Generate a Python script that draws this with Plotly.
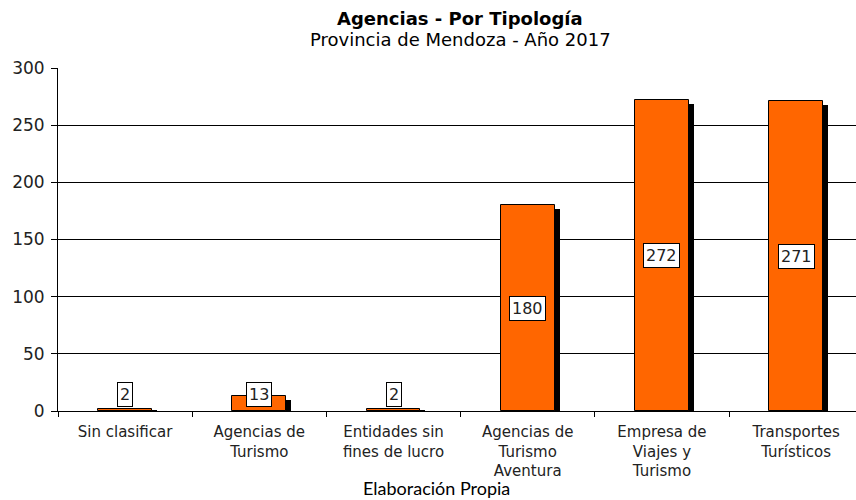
import plotly.graph_objects as go

categories = ["Sin clasificar", "Agencias de<br>Turismo", "Entidades sin<br>fines de lucro",
              "Agencias de<br>Turismo<br>Aventura", "Empresa de<br>Viajes y<br>Turismo",
              "Transportes<br>Turísticos"]
values = [2, 13, 2, 180, 272, 271]
y_ticks = [0, 50, 100, 150, 200, 250, 300]

FONT = "DejaVu Sans"
W = 0.4
SH_X = 0.037   # shadow horizontal shift in category units
SH_Y = 3.5     # shadow vertical drop in data units

fig = go.Figure()
fig.add_trace(go.Bar(
    x=categories, y=[max(v - SH_Y, 0.6) for v in values],
    width=W, offset=-W / 2 + SH_X,
    marker=dict(color="black", line=dict(width=0)),
    hoverinfo="skip", showlegend=False))
fig.add_trace(go.Bar(
    x=categories, y=values, width=W, offset=-W / 2,
    marker=dict(color="#FF6600", line=dict(color="black", width=1)),
    showlegend=False))

for c, v in zip(categories, values):
    ypos = v / 2 if v / 2 > 14 else 14
    fig.add_annotation(x=c, y=ypos, text=str(v), showarrow=False,
                       font=dict(family=FONT, size=16, color="#222"),
                       bgcolor="white", bordercolor="black", borderwidth=1,
                       borderpad=2)

fig.add_annotation(text="<b>Agencias - Por Tipología</b>", xref="paper", yref="paper",
                   x=0.504, y=1, yshift=50, showarrow=False, yanchor="middle",
                   font=dict(family=FONT, size=18, color="black"))
fig.add_annotation(text="Provincia de Mendoza - Año 2017", xref="paper", yref="paper",
                   x=0.504, y=1, yshift=29, showarrow=False, yanchor="middle",
                   font=dict(family=FONT, size=18, color="black"))
fig.add_annotation(text="Elaboración Propia", xref="paper", yref="paper",
                   x=0.474, y=0, yshift=-77, showarrow=False, yanchor="middle",
                   font=dict(family="Lato", size=18, color="black"))

fig.update_layout(
    width=856, height=500, barmode="overlay",
    margin=dict(l=58, r=0, t=68, b=89),
    paper_bgcolor="white", plot_bgcolor="white",
    font=dict(family=FONT, size=15, color="black"),
    bargap=0,
)
fig.update_xaxes(type="category", tickson="boundaries", ticks="outside", ticklen=5,
                 tickcolor="black", showline=True, linecolor="black", linewidth=1,
                 showgrid=False, tickfont=dict(family=FONT, size=15, color="#222"),
                 range=[-0.5, 5.446], automargin=False, ticklabelstandoff=7)
fig.update_yaxes(range=[0, 300], tickvals=y_ticks, showgrid=True, gridcolor="black",
                 gridwidth=1, showline=True, linecolor="black", linewidth=1,
                 ticks="outside", ticklen=6, tickcolor="black", zeroline=False,
                 tickfont=dict(family=FONT, size=17, color="#222"), automargin=False,
                 ticklabelstandoff=3)

fig.write_html("out.html", post_script="document.body.style.margin='0';",
               config={"displayModeBar": False})
